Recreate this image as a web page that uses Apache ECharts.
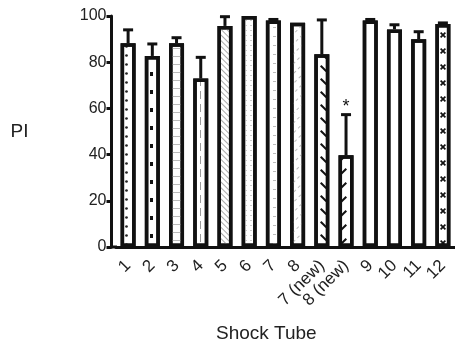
<!DOCTYPE html>
<html>
<head>
<meta charset="utf-8">
<script src="https://cdn.jsdelivr.net/npm/echarts@6/dist/echarts.min.js"></script>
<style>
  html, body { margin: 0; padding: 0; background: #fff; }
  #container { width: 455px; height: 343px; }
</style>
</head>
<body>
<div id="container"></div>
<script>
var categories = ['1', '2', '3', '4', '5', '6', '7', '8', '7 (new)', '8 (new)', '9', '10', '11', '12']
var values = [88.2, 82.7, 88.2, 72.9, 95.7, 100, 98, 97.1, 83.4, 39.7, 98, 94.2, 89.9, 96.5]
var errors = [5.8, 5.2, 2.4, 9.2, 4, 0, 0.5, 0, 14.9, 17.6, 0.5, 2, 3.3, 0.5]
var marks = ['', '', '', '', '', '', '', '', '', '*', '', '', '', '']
var yTicks = [0, 20, 40, 60, 80, 100]

var font = 'Liberation Sans, Arial, sans-serif'

// one fill pattern per bar, roughly like the original hatchings
var xPath = 'path://M0,2L2,0L5,3L8,0L10,2L7,5L10,8L8,10L5,7L2,10L0,8L3,5Z'
var gammaPath = 'path://M0,0L10,0L10,3L3,3L3,10L0,10Z'
var backPath = 'path://M0,2L2,0L10,8L8,10Z'
var slashPath = 'path://M8,0L10,2L2,10L0,8Z'
var decals = [
  { symbol: 'circle', symbolSize: 0.9, color: '#222', dashArrayX: [3, 21.75], dashArrayY: [3, 6] },
  { symbol: 'rect', symbolSize: 1, color: '#111', dashArrayX: [3, 21.75], dashArrayY: [4, 14] },
  { symbol: 'rect', symbolSize: 1, color: '#bbb', dashArrayX: [1, 0], dashArrayY: [1, 7] },
  { symbol: 'rect', symbolSize: 1, color: '#999', dashArrayX: [1, 23.75], dashArrayY: [8, 5] },
  { symbol: 'rect', symbolSize: 1, color: '#aaa', dashArrayX: [1, 0], dashArrayY: [1, 3], rotation: Math.PI / 4 },
  { symbol: 'rect', symbolSize: 1, color: '#ccc', dashArrayX: [2, 3], dashArrayY: [1, 4] },
  { symbol: 'rect', symbolSize: 1, color: '#bbb', dashArrayX: [3, 4], dashArrayY: [1, 8] },
  { symbol: 'rect', symbolSize: 1, color: '#bbb', dashArrayX: [3, 3], dashArrayY: [1, 6], rotation: -Math.PI / 4 },
  { symbol: backPath, symbolSize: 1, color: '#111', dashArrayX: [7, 3], dashArrayY: [7, 6] },
  { symbol: slashPath, symbolSize: 1, color: '#111', dashArrayX: [7, 3], dashArrayY: [7, 7] },
  { symbol: 'rect', symbolSize: 1, color: '#222', dashArrayX: [2, 22.75], dashArrayY: [6, 3] },
  { symbol: 'rect', symbolSize: 1, color: '#111', dashArrayX: [5, 19.75], dashArrayY: [3, 15] },
  { symbol: gammaPath, symbolSize: 1, color: '#111', dashArrayX: [7, 17.75], dashArrayY: [7, 10] },
  { symbol: xPath, symbolSize: 1, color: '#111', dashArrayX: [6, 2], dashArrayY: [6, 10] }
]

var myChart = echarts.init(document.getElementById('container'))

var barData = values.map(function (v, i) {
  return {
    value: v,
    itemStyle: { decal: decals[i] }
  }
})

var errData = values.map(function (v, i) {
  return [i, v, errors[i]]
})

function renderError(params, api) {
  var x = api.value(0)
  var y = api.value(1)
  var e = api.value(2)
  var mark = marks[params.dataIndex]
  var base = api.coord([x, y])
  var top = api.coord([x, y + e])
  var children = []
  if (e > 0) {
    children.push({
      type: 'line',
      shape: { x1: base[0], y1: base[1], x2: top[0], y2: top[1] },
      style: { stroke: '#111', lineWidth: 3 }
    })
    children.push({
      type: 'line',
      shape: { x1: top[0] - 5, y1: top[1], x2: top[0] + 5, y2: top[1] },
      style: { stroke: '#111', lineWidth: 3 }
    })
  }
  if (mark) {
    children.push({
      type: 'text',
      style: {
        text: mark, x: top[0], y: top[1] - 8,
        align: 'center', verticalAlign: 'middle',
        font: '18px ' + font, fill: '#111'
      }
    })
  }
  return { type: 'group', children: children }
}

var option = {
  backgroundColor: '#fff',
  animation: false,
  title: {
    text: 'Shock Tube',
    left: 216,
    top: 324,
    padding: 0,
    textStyle: { fontFamily: font, fontSize: 19, fontWeight: 'normal', color: '#222' }
  },
  grid: {
    left: 116,
    right: -8,
    top: 16,
    bottom: 96
  },
  xAxis: {
    type: 'category',
    data: categories,
    axisLine: { lineStyle: { color: '#111', width: 3 } },
    axisTick: { alignWithLabel: true, length: 9, lineStyle: { color: '#111', width: 3 } },
    axisLabel: {
      interval: 0,
      rotate: 45,
      margin: 16,
      fontFamily: font,
      fontSize: 17,
      color: '#222'
    }
  },
  yAxis: {
    type: 'value',
    min: 0,
    max: 100,
    interval: 20,
    offset: 4.5,
    name: 'PI',
    nameLocation: 'middle',
    nameRotate: 0,
    nameGap: 83,
    nameTextStyle: { fontFamily: font, fontSize: 19, color: '#222' },
    axisLine: { show: true, lineStyle: { color: '#111', width: 3 } },
    axisTick: { show: true, length: 5, lineStyle: { color: '#111', width: 3 } },
    axisLabel: {
      margin: 5,
      fontFamily: font,
      fontSize: 16,
      color: '#222',
      formatter: function (v) { return yTicks.indexOf(v) >= 0 ? String(v) : '' }
    },
    splitLine: { show: false }
  },
  series: [{
    type: 'bar',
    data: barData,
    barWidth: 15,
    itemStyle: { color: '#fff', borderColor: '#111', borderWidth: 3.5 }
  }, {
    type: 'custom',
    data: errData,
    renderItem: renderError,
    z: 3
  }],
  graphic: [{
    type: 'line',
    shape: { x1: 110, y1: 247, x2: 117, y2: 247 },
    style: { stroke: '#111', lineWidth: 3 }
  }]
}

myChart.setOption(option)
</script>
</body>
</html>
